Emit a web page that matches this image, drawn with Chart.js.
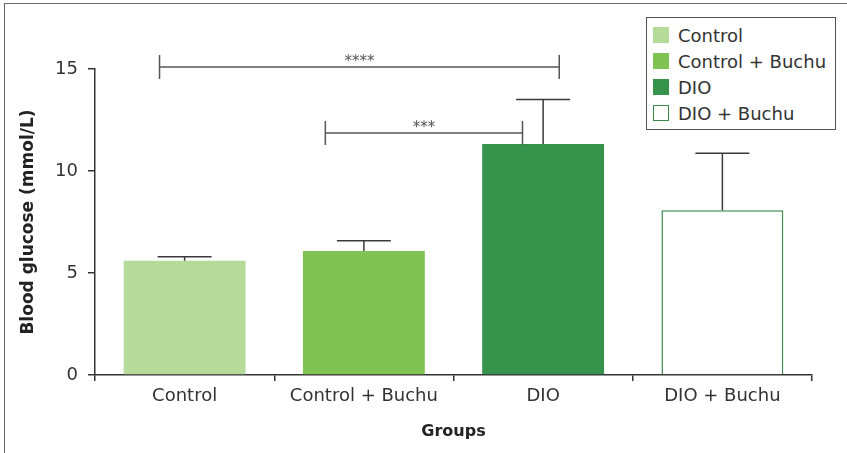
<!DOCTYPE html>
<html lang="en">
<head>
  <meta charset="UTF-8">
  <title>Blood glucose by group</title>
  <script src="https://cdn.jsdelivr.net/npm/chart.js@4.4.1/dist/chart.umd.min.js"></script>
  <style>
    body { margin: 0; background: #fff; }
    #wrap { position: relative; width: 847px; height: 453px; overflow: hidden; }
    #frame {
      position: absolute; left: 4px; top: 3px; right: -10px; bottom: -10px;
      border-top: 1.5px solid #666; border-left: 1.5px solid #666;
      pointer-events: none;
    }
    #legend {
      position: absolute; left: 646px; top: 17px; width: 190px; height: 113px;
      border: 1px solid #555; box-sizing: border-box; background: #fff;
      font-family: "DejaVu Sans", sans-serif; font-size: 18px; color: #333;
      padding-top: 4px;
    }
    .item { height: 26px; display: flex; align-items: center; }
    .sw { width: 16px; height: 16px; margin-left: 6px; margin-right: 9px; box-sizing: border-box; }
  </style>
</head>
<body>
  <div id="wrap">
    <canvas id="glucose-chart" width="847" height="453"></canvas>
    <div id="frame"></div>
    <div id="legend"></div>
  </div>

  <script>
    // data
    const groups = ["Control", "Control + Buchu", "DIO", "DIO + Buchu"];
    const glucose = [5.6, 6.08, 11.32, 8.07];
    const sem = [0.2, 0.5, 2.18, 2.8];
    const fills = ["#b5da9a", "#7fc352", "#36934c", "#ffffff"];
    const edges = ["#b5da9a", "#7fc352", "#36934c", "#3b8a4c"];
    const yTicks = [0, 5, 10, 15];

    // significance brackets
    const sigFrom = [0, 1];
    const sigTo = [2, 2];
    const sigLevel = [15.1, 11.86];
    const sigLabel = ["****", "***"];

    const FONT = '"DejaVu Sans", sans-serif';

    // legend as html
    const legend = document.getElementById("legend");
    groups.forEach((g, i) => {
      const row = document.createElement("div");
      row.className = "item";
      const sw = document.createElement("span");
      sw.className = "sw";
      sw.style.background = fills[i];
      sw.style.border = "1.5px solid " + edges[i];
      const txt = document.createElement("span");
      txt.textContent = g;
      row.appendChild(sw);
      row.appendChild(txt);
      legend.appendChild(row);
    });

    // error bars (upper only) + brackets
    const extras = {
      id: "extras",
      afterDatasetsDraw(chart, args, opts) {
        const ctx = chart.ctx;
        const x = chart.scales.x, y = chart.scales.y;
        const meta = chart.getDatasetMeta(0);
        ctx.save();
        ctx.strokeStyle = "#3a3a3a";
        ctx.lineWidth = 1.5;
        meta.data.forEach((bar, i) => {
          const top = y.getPixelForValue(glucose[i]);
          const hi = y.getPixelForValue(glucose[i] + sem[i]);
          ctx.beginPath();
          ctx.moveTo(bar.x, top);
          ctx.lineTo(bar.x, hi);
          ctx.moveTo(bar.x - opts.cap / 2, hi);
          ctx.lineTo(bar.x + opts.cap / 2, hi);
          ctx.stroke();
        });

        const cw = x.getPixelForValue(1) - x.getPixelForValue(0);
        ctx.strokeStyle = "#555";
        ctx.fillStyle = "#555";
        ctx.font = "15px " + FONT;
        ctx.textAlign = "center";
        ctx.textBaseline = "middle";
        sigLabel.forEach((lab, i) => {
          const x1 = x.getPixelForValue(sigFrom[i]) + opts.shift[i][0] * cw;
          const x2 = x.getPixelForValue(sigTo[i]) + opts.shift[i][1] * cw;
          const yy = y.getPixelForValue(sigLevel[i]);
          const h = opts.tick;
          ctx.beginPath();
          ctx.moveTo(x1, yy); ctx.lineTo(x2, yy);
          ctx.moveTo(x1, yy - h); ctx.lineTo(x1, yy + h);
          ctx.moveTo(x2, yy - h); ctx.lineTo(x2, yy + h);
          ctx.stroke();
          ctx.fillText(lab, (x1 + x2) / 2, yy - 5);
        });
        ctx.restore();
      }
    };

    const ctx = document.getElementById("glucose-chart").getContext("2d");
    new Chart(ctx, {
      type: "bar",
      data: {
        labels: groups,
        datasets: [{
          label: "Blood glucose",
          data: glucose,
          backgroundColor: fills,
          borderColor: edges,
          borderWidth: [0, 0, 0, 1.5],
          barPercentage: 0.68,
          categoryPercentage: 1
        }]
      },
      options: {
        responsive: false,
        animation: false,
        layout: { padding: { top: 69, right: 35, left: 0, bottom: 0 } },
        plugins: {
          legend: { display: false },
          tooltip: { enabled: false },
          extras: { cap: 54, tick: 12, shift: [[-0.14, 0.09], [-0.215, -0.115]] }
        },
        scales: {
          x: {
            afterFit(s) { s.height = 78; },
            grid: { display: true, drawOnChartArea: false, drawTicks: true, tickLength: 6, color: "#333", lineWidth: 1.5, offset: true },
            border: { display: true, color: "#333", width: 1.5 },
            ticks: { color: "#333", padding: 5, font: { family: FONT, size: 18 } },
            title: { display: true, text: "Groups", color: "#222", padding: { bottom: 12 }, font: { family: FONT, size: 16, weight: "bold" } }
          },
          y: {
            min: 0,
            max: 15,
            afterFit(s) { s.width = 95; },
            afterBuildTicks(s) { s.ticks = yTicks.map(v => ({ value: v })); },
            grid: { display: true, drawOnChartArea: false, drawTicks: true, tickLength: 7, color: "#333", lineWidth: 1.5 },
            border: { display: true, color: "#333", width: 1.5 },
            ticks: { color: "#333", padding: 10, font: { family: FONT, size: 18 } },
            title: { display: true, text: "Blood glucose (mmol/L)", color: "#222", padding: { top: 18 }, font: { family: FONT, size: 17, weight: "bold" } }
          }
        }
      },
      plugins: [extras]
    });
  </script>
</body>
</html>
